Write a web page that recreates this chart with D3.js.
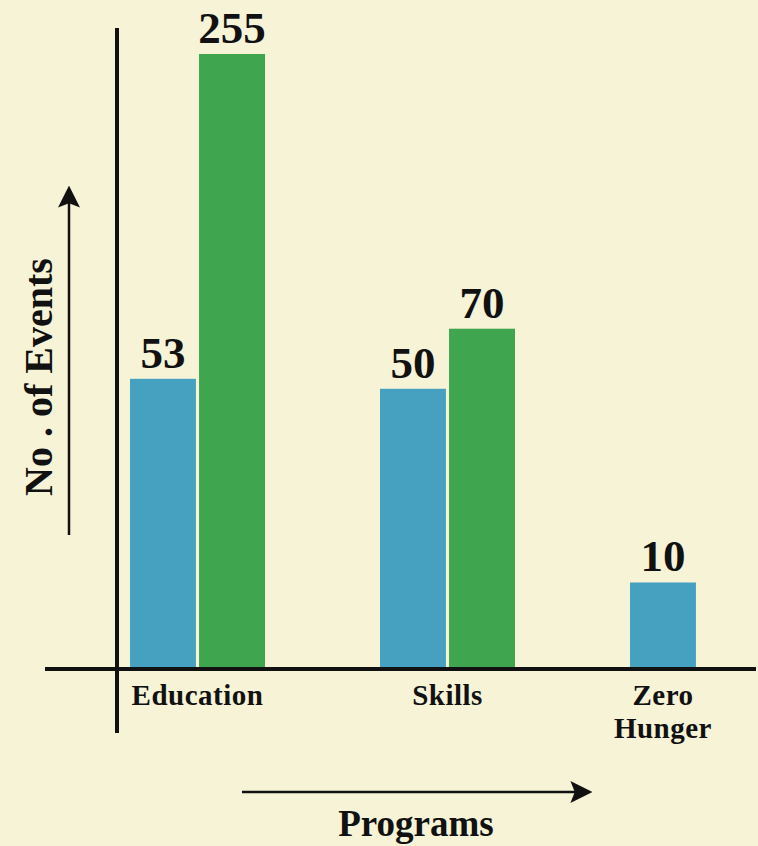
<!DOCTYPE html>
<html>
<head>
<meta charset="utf-8">
<script src="https://cdn.jsdelivr.net/npm/d3@7"></script>
<style>
  html, body { margin: 0; padding: 0; background: #f6f3d6; }
  svg { display: block; }
  text { font-family: "Liberation Serif", "DejaVu Serif", serif; font-weight: bold; fill: #111; }
</style>
</head>
<body>
<svg id="chart"></svg>
<script>
// data
const programs = ["Education", "Skills", "Zero Hunger"];
const series = ["first", "second"];
const firstValues = [53, 50, 10];
const secondValues = [255, 70, null];   // no second bar for Zero Hunger
const colors = ["#46a1c1", "#3fa54f"];

const width = 758, height = 846;
const baseline = 668;

const svg = d3.select("#chart").attr("width", width).attr("height", height);

svg.append("rect").attr("width", width).attr("height", height).attr("fill", "#f6f3d6");

// bars in the picture are not to linear scale, symlog fits them well
const y = d3.scaleSymlog()
  .constant(25)
  .domain([0, 255])
  .range([baseline, 54]);

const x0 = d3.scaleBand()
  .domain(programs)
  .range([130, 130 + 250 * programs.length]);

const x1 = d3.scaleBand()
  .domain(series)
  .range([0, 135])
  .paddingInner(0.045);

const rows = [];
programs.forEach((p, i) => {
  [firstValues[i], secondValues[i]].forEach((v, j) => {
    if (v != null) rows.push({ program: p, key: series[j], value: v, color: colors[j] });
  });
});

const bars = svg.append("g");

bars.selectAll("rect")
  .data(rows)
  .enter()
  .append("rect")
  .attr("x", d => x0(d.program) + x1(d.key))
  .attr("y", d => y(d.value))
  .attr("width", x1.bandwidth())
  .attr("height", d => y(0) - y(d.value))
  .attr("fill", d => d.color);

bars.selectAll("text")
  .data(rows)
  .enter()
  .append("text")
  .attr("x", d => x0(d.program) + x1(d.key) + x1.bandwidth() / 2)
  .attr("y", d => y(d.value) - 11)
  .attr("text-anchor", "middle")
  .style("font-size", "45px")
  .text(d => d.value);

// axis lines
svg.append("line")
  .attr("x1", 45).attr("x2", 756)
  .attr("y1", baseline + 1).attr("y2", baseline + 1)
  .attr("stroke", "#111").attr("stroke-width", 4);

svg.append("line")
  .attr("x1", 117).attr("x2", 117)
  .attr("y1", 28).attr("y2", 733)
  .attr("stroke", "#111").attr("stroke-width", 4);

// category labels, centred under the bars each program actually has
const labelX = p => {
  const own = rows.filter(r => r.program === p);
  const left = x0(p) + x1(own[0].key);
  const right = x0(p) + x1(own[own.length - 1].key) + x1.bandwidth();
  return (left + right) / 2;
};

const cats = svg.append("g");
programs.forEach(p => {
  const t = cats.append("text")
    .attr("x", labelX(p))
    .attr("y", 705)
    .attr("text-anchor", "middle")
    .style("font-size", "29px")
    .style("letter-spacing", "0.5px");
  p.split(" ").forEach((w, i) => {
    t.append("tspan").attr("x", labelX(p)).attr("dy", i ? 33 : 0).text(w);
  });
});

// arrows
svg.append("defs").append("marker")
  .attr("id", "head")
  .attr("viewBox", "0 0 10 10")
  .attr("refX", 8).attr("refY", 5)
  .attr("markerWidth", 22).attr("markerHeight", 22)
  .attr("markerUnits", "userSpaceOnUse")
  .attr("orient", "auto")
  .append("path")
  .attr("d", "M0,0 L10,5 L0,10 L2,5 Z")
  .attr("fill", "#111");

svg.append("line")
  .attr("x1", 242).attr("x2", 588)
  .attr("y1", 792).attr("y2", 792)
  .attr("stroke", "#111").attr("stroke-width", 2.5)
  .attr("marker-end", "url(#head)");

svg.append("line")
  .attr("x1", 69).attr("x2", 69)
  .attr("y1", 535).attr("y2", 190)
  .attr("stroke", "#111").attr("stroke-width", 2.5)
  .attr("marker-end", "url(#head)");

svg.append("text")
  .attr("x", 416).attr("y", 836)
  .attr("text-anchor", "middle")
  .style("font-size", "37px")
  .text("Programs");

svg.append("text")
  .attr("transform", "translate(52,377) rotate(-90)")
  .attr("text-anchor", "middle")
  .style("font-size", "40px")
  .text("No . of Events");
</script>
</body>
</html>
